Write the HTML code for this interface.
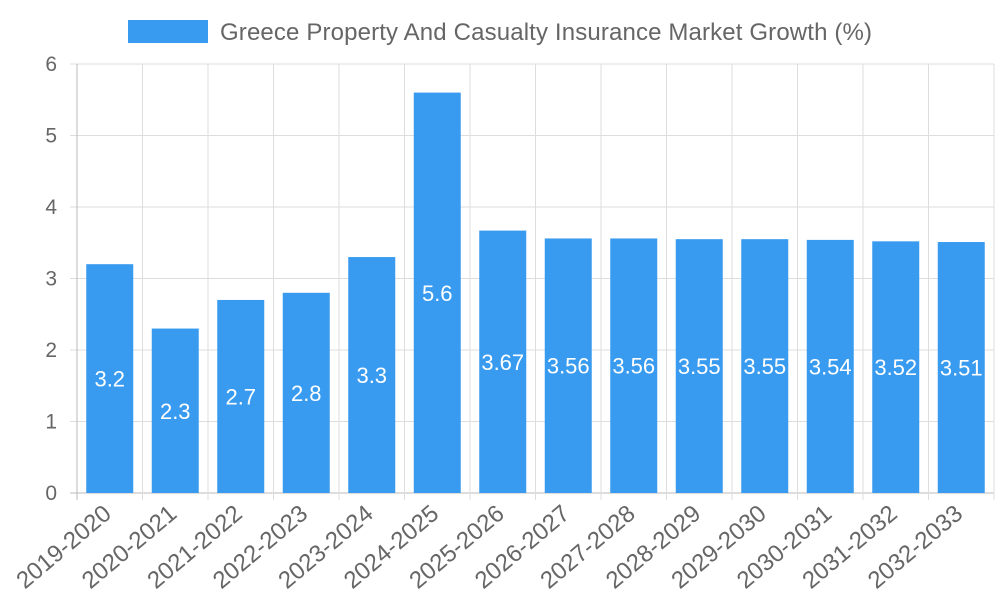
<!DOCTYPE html>
<html><head><meta charset="utf-8"><style>
html,body{margin:0;padding:0;background:#fff;width:1000px;height:600px;overflow:hidden}
text{font-family:"Liberation Sans",sans-serif}
</style></head><body>
<svg id="chart" width="1000" height="600" viewBox="0 0 1000 600" xmlns="http://www.w3.org/2000/svg">
<g id="legend">
<rect x="128" y="20" width="80" height="23" fill="#389bf0"/>
<text x="220" y="40" font-size="24" fill="#666" textLength="652">Greece Property And Casualty Insurance Market Growth (%)</text>
</g>
<g id="grid"></g><g id="bars"></g><g id="labels"></g>
</svg>
<script>
const categories=["2019-2020","2020-2021","2021-2022","2022-2023","2023-2024","2024-2025","2025-2026","2026-2027","2027-2028","2028-2029","2029-2030","2030-2031","2031-2032","2032-2033"];
const values=[3.2,2.3,2.7,2.8,3.3,5.6,3.67,3.56,3.56,3.55,3.55,3.54,3.52,3.51];
const yTicks=[0,1,2,3,4,5,6];
const NS="http://www.w3.org/2000/svg";
const L=77,R=994,T=64,B=493,yMax=6;
const step=(R-L)/categories.length;
const y=v=>B-(B-T)*v/yMax;
const xc=i=>L+step*(i+0.5);
function mk(tag,attrs,parent){const e=document.createElementNS(NS,tag);for(const k in attrs)e.setAttribute(k,attrs[k]);parent.appendChild(e);return e;}
const grid=document.getElementById('grid'),bars=document.getElementById('bars'),labels=document.getElementById('labels');
yTicks.forEach(t=>{
 const ln=mk('line',{x1:L-7,x2:R,y1:y(t),y2:y(t),stroke:t===0?'#bbb':'#ddd','stroke-width':1},grid);
 
 
 const tx=mk('text',{x:L-20,y:y(t)+7,'font-size':21,fill:'#666','text-anchor':'end'},grid);
 tx.textContent=t;
 
 
});
for(let i=0;i<=categories.length;i++){
 const gx=L+step*i;
 const ln=mk('line',{x1:gx,x2:gx,y1:T,y2:B+7,stroke:i===0?'#bbb':'#ddd','stroke-width':1},grid);
 
 
}
const bw=47;
categories.forEach((c,i)=>{
 const v=values[i];
 const r=mk('rect',{x:xc(i)-bw/2,y:y(v),width:bw,height:B-y(v),fill:'#389bf0'},bars);
 
 
 const vt=mk('text',{x:xc(i),y:(y(v)+B)/2+8,'font-size':22,fill:'#fff','text-anchor':'middle'},labels);
 vt.textContent=v;
 
 
 const cx=xc(i)+3,cy=B+23;
 const xt=mk('text',{x:cx,y:cy,'font-size':24,fill:'#666','text-anchor':'end',transform:`rotate(-40 ${cx} ${cy})`},labels);
 xt.textContent=c;
 
 
});
</script>
</body></html>
